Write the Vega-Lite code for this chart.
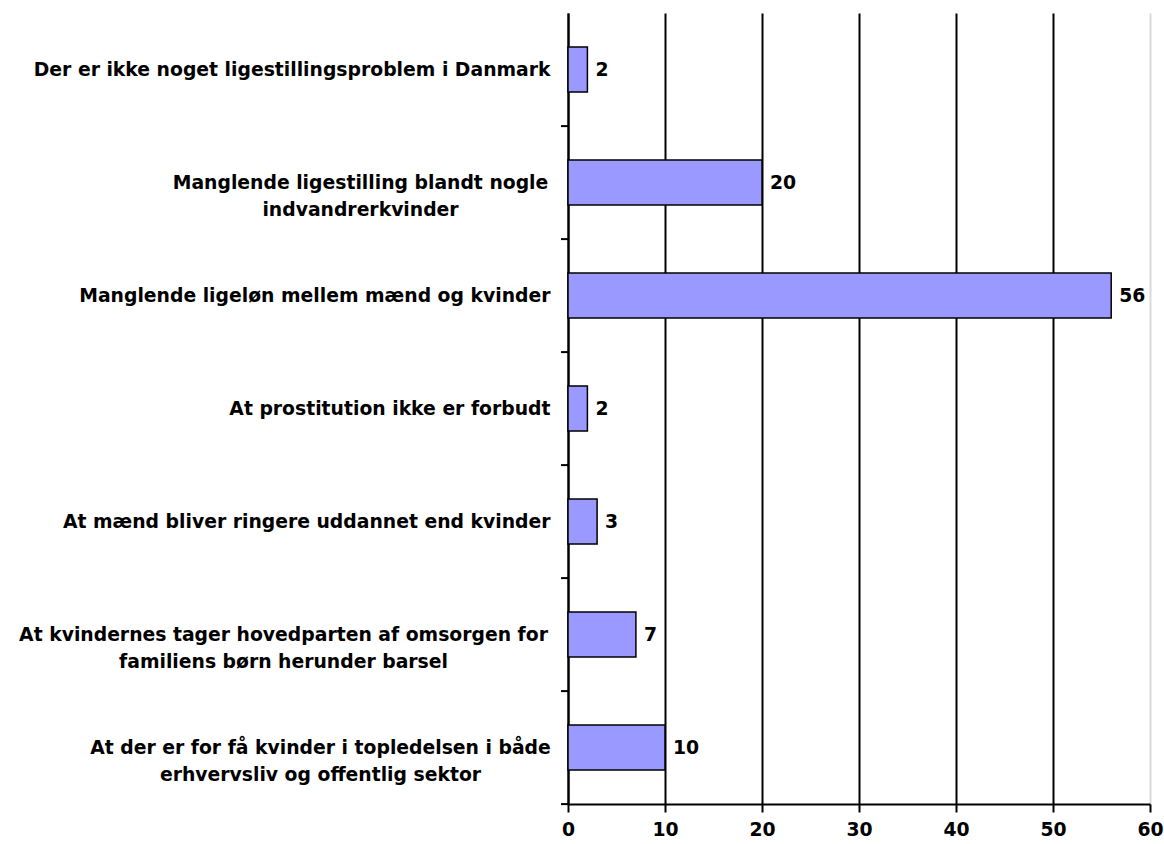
{
  "$schema": "https://vega.github.io/schema/vega-lite/v6.json",
  "width": 582,
  "height": 791,
  "autosize": {"type": "none"},
  "padding": {"left": 568, "top": 13, "right": 14, "bottom": 40},
  "background": "white",
  "config": {"view": {"stroke": null}, "font": "DejaVu Sans"},
  "data": {
    "values": [
      {"kategori": "Der er ikke noget ligestillingsproblem i Danmark", "procent": 2},
      {"kategori": "Manglende ligestilling blandt nogle|indvandrerkvinder", "procent": 20},
      {"kategori": "Manglende ligeløn mellem mænd og kvinder", "procent": 56},
      {"kategori": "At prostitution ikke er forbudt", "procent": 2},
      {"kategori": "At mænd bliver ringere uddannet end kvinder", "procent": 3},
      {"kategori": "At kvindernes tager hovedparten af omsorgen for|familiens børn herunder barsel", "procent": 7},
      {"kategori": "At der er for få kvinder i topledelsen i både|erhvervsliv og offentlig sektor", "procent": 10}
    ]
  },
  "encoding": {
    "y": {
      "field": "kategori",
      "type": "nominal",
      "sort": null,
      "scale": {"paddingInner": 0.6, "paddingOuter": 0.3},
      "axis": {
        "title": null,
        "ticks": false,
        "tickSize": 0,
        "labelFont": "DejaVu Sans",
        "labelFontWeight": "bold",
        "labelFontSize": 18.8,
        "labelColor": "black",
        "labelLimit": 0,
        "labelLineHeight": 27,
        "labelExpr": "split(datum.label, '|')",
        "domainColor": "black",
        "domainWidth": 2,
        "labelAlign": {"condition": {"test": "indexof(datum.value, '|') >= 0", "value": "center"}, "value": "right"},
        "labelPadding": {
          "condition": [
            {"test": "indexof(datum.value, 'Manglende ligestilling') === 0", "value": 208},
            {"test": "indexof(datum.value, 'At kvindernes') === 0", "value": 285},
            {"test": "indexof(datum.value, 'At der er') === 0", "value": 248}
          ],
          "value": 18
        }
      }
    }
  },
  "layer": [
    {
      "mark": {"type": "bar", "fill": "#9999FF", "stroke": "black", "strokeWidth": 1.5},
      "encoding": {
        "x": {
          "field": "procent",
          "type": "quantitative",
          "scale": {"domain": [0, 60], "nice": false},
          "axis": {
            "title": null,
            "values": [0, 10, 20, 30, 40, 50, 60],
            "grid": true,
            "gridColor": {"condition": {"test": "datum.value === 60", "value": "#d9d9d9"}, "value": "black"},
            "gridWidth": 2,
            "tickColor": "black",
            "tickWidth": 2,
            "tickSize": 8,
            "domainColor": "black",
            "domainWidth": 2,
            "labelFont": "DejaVu Sans",
            "labelFontWeight": "bold",
            "labelFontSize": 18.8,
            "labelColor": "black",
            "labelPadding": 8,
            "labelFlush": false
          }
        }
      }
    },
    {
      "mark": {"type": "text", "align": "left", "baseline": "middle", "dx": 8, "font": "DejaVu Sans", "fontWeight": "bold", "fontSize": 18.8, "color": "black"},
      "encoding": {
        "x": {"field": "procent", "type": "quantitative"},
        "text": {"field": "procent", "type": "quantitative"}
      }
    },
    {
      "mark": {"type": "rule", "x2Offset": -7, "yOffset": 34, "stroke": "black", "strokeWidth": 2},
      "encoding": {
        "x": {"datum": 0},
        "x2": {"datum": 0},
        "y": {"field": "kategori", "type": "nominal", "sort": null, "bandPosition": 1}
      }
    }
  ]
}
